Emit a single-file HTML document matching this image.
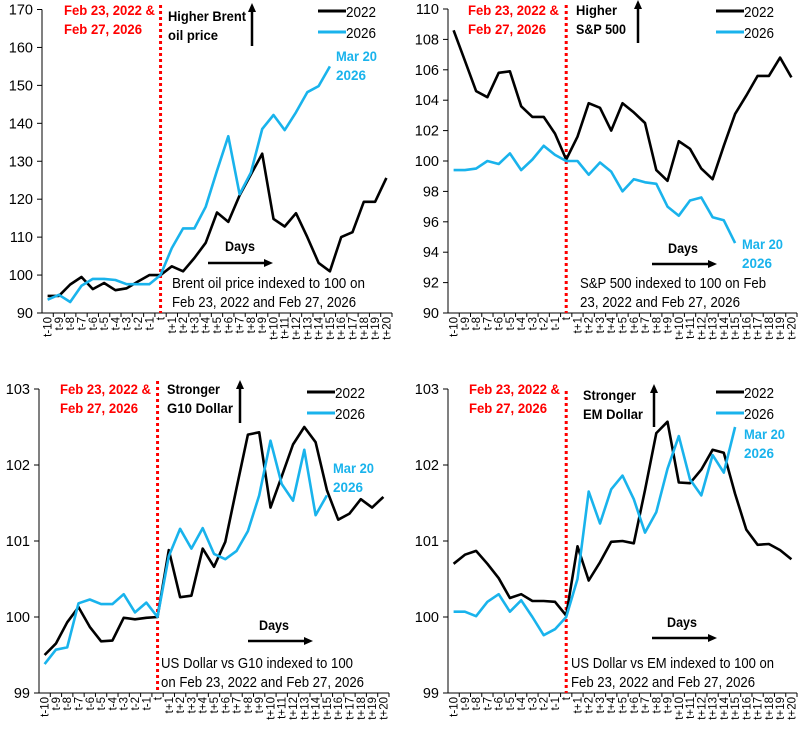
<!DOCTYPE html>
<html><head><meta charset="utf-8"><style>
html,body{margin:0;padding:0;background:#fff;}
svg{display:block;font-family:"Liberation Sans",sans-serif;}
</style></head><body>
<svg id="chart" width="802" height="731" viewBox="0 0 802 731" xmlns="http://www.w3.org/2000/svg"></svg>
<script>
const categories = ["t-10","t-9","t-8","t-7","t-6","t-5","t-4","t-3","t-2","t-1","t","t+1","t+2","t+3","t+4","t+5","t+6","t+7","t+8","t+9","t+10","t+11","t+12","t+13","t+14","t+15","t+16","t+17","t+18","t+19","t+20"];
const brent2022 = [94.5,94.5,97.5,99.5,96.3,97.9,96,96.5,98.3,100,100,102.3,101,104.5,108.5,116.5,114,121,126.5,132,114.8,112.8,116.3,110,103.2,101,110,111.3,119.3,119.3,125.6];
const brent2026 = [93.5,94.8,92.9,97.2,99,99,98.7,97.6,97.6,97.6,100,107.1,112.3,112.3,118,127.5,136.6,121.3,127,138.5,142.2,138.2,142.9,148.2,149.8,155];
const spx2022 = [108.6,106.6,104.6,104.2,105.8,105.9,103.6,102.9,102.9,101.8,100.1,101.6,103.8,103.5,102,103.8,103.2,102.5,99.4,98.7,101.3,100.8,99.5,98.8,101,103.1,104.3,105.6,105.6,106.8,105.5];
const spx2026 = [99.4,99.4,99.5,100,99.8,100.5,99.4,100.1,101,100.4,100,100,99.1,99.9,99.3,98,98.8,98.6,98.5,97,96.4,97.4,97.6,96.3,96.1,94.6];
const g10_2022 = [99.5,99.65,99.93,100.13,99.87,99.68,99.69,99.99,99.97,99.99,100,100.88,100.26,100.28,100.9,100.66,100.99,101.7,102.4,102.43,101.44,101.85,102.27,102.5,102.3,101.67,101.28,101.36,101.55,101.44,101.58];
const g10_2026 = [99.38,99.57,99.6,100.18,100.23,100.17,100.17,100.3,100.06,100.19,100,100.8,101.16,100.9,101.17,100.83,100.76,100.87,101.13,101.6,102.32,101.75,101.53,102.2,101.34,101.6];
const em2022 = [100.7,100.82,100.87,100.7,100.51,100.25,100.3,100.21,100.21,100.2,100.02,100.93,100.48,100.72,100.99,101.0,100.97,101.67,102.42,102.57,101.77,101.76,101.94,102.2,102.16,101.62,101.15,100.95,100.96,100.88,100.76];
const em2026 = [100.07,100.07,100.01,100.2,100.3,100.07,100.22,100.0,99.76,99.84,100.0,100.5,101.65,101.23,101.68,101.86,101.55,101.11,101.38,101.95,102.38,101.81,101.6,102.13,101.9,102.5];
const brentTicks = [90,100,110,120,130,140,150,160,170];
const spxTicks = [90,92,94,96,98,100,102,104,106,108,110];
const g10Ticks = [99,100,101,102,103];
const emTicks = [99,100,101,102,103];

const NS="http://www.w3.org/2000/svg";
const svg=document.getElementById('chart');
function mk(tag,attrs,parent,text){const e=document.createElementNS(NS,tag);for(const k in attrs)e.setAttribute(k,attrs[k]);if(text!==undefined)e.textContent=text;(parent||svg).appendChild(e);return e;}
function ts(parent,x,y,txt,len){const a={x:x,y:y};if(len){a.textLength=len;a.lengthAdjust='spacingAndGlyphs';}return mk('tspan',a,parent,txt);}

function panel(cfg){
  const g=mk('g',{});
  
  
  const {x0,x1,yTop,yBot,min,max}=cfg;
  const n=categories.length, step=(x1-x0)/n;
  const xs=i=>x0+(i+0.5)*step;
  const ys=v=>yBot-(v-min)/(max-min)*(yBot-yTop);
  const ya=mk('line',{x1:x0,y1:yTop,x2:x0,y2:yBot,stroke:'#000','stroke-width':1},g);
  
  
  cfg.ticks.forEach(t=>{
    const y=ys(t);
    mk('line',{x1:x0-5,y1:y,x2:x0,y2:y,stroke:'#000','stroke-width':1},g);
    const tl=mk('text',{x:x0-9,y:y+5,'text-anchor':'end','font-size':14.5,fill:'#000'},g,String(t));
    
    
  });
  const xa=mk('line',{x1:x0,y1:yBot,x2:x1,y2:yBot,stroke:'#000','stroke-width':1},g);
  
  
  categories.forEach((c,i)=>{
    const x=xs(i);
    mk('line',{x1:x0+(i+1)*step,y1:yBot,x2:x0+(i+1)*step,y2:yBot+4,stroke:'#000','stroke-width':1},g);
    const tl=mk('text',{x:0,y:0,'text-anchor':'end','font-size':11.5,fill:'#000',transform:`translate(${x+4},${yBot+4}) rotate(-90)`},g,c);
    
    
  });
  const rl=mk('line',{x1:xs(10),y1:cfg.redTop,x2:xs(10),y2:yBot,stroke:'#ff0000','stroke-width':3,'stroke-dasharray':'3,3'},g);
  
  
  [[cfg.s22,'#000000','series-2022'],[cfg.s26,'#19b3ec','series-2026']].forEach(([d,col,nm])=>{
    const p=mk('polyline',{points:d.map((v,i)=>xs(i).toFixed(1)+','+ys(v).toFixed(1)).join(' '),fill:'none',stroke:col,'stroke-width':2.6,'stroke-linejoin':'round'},g);
    
    
  });
  const a=cfg.ann;
  const dl=mk('text',{'font-size':14,'font-weight':'bold',fill:'#ff0000'},g);
  
  
  ts(dl,a.fx,a.fy,'Feb 23, 2022 &',91);
  ts(dl,a.fx,a.fy+19,'Feb 27, 2026',78);
  const hl=mk('text',{'font-size':14,'font-weight':'bold',fill:'#000'},g);
  
  
  ts(hl,a.hx,a.hy,a.h1,a.h1w);
  ts(hl,a.hx,a.hy+19,a.h2,a.h2w);
  const ua=mk('g',{},g);
  
  
  mk('line',{x1:a.ax,y1:a.ay1,x2:a.ax,y2:a.ay0+8,stroke:'#000','stroke-width':2.5},ua);
  mk('polygon',{points:`${a.ax-4},${a.ay0+9} ${a.ax+4},${a.ay0+9} ${a.ax},${a.ay0}`,fill:'#000'},ua);
  const lg=mk('g',{},g);
  
  
  mk('line',{x1:a.lx,y1:a.ly,x2:a.lx+28,y2:a.ly,stroke:'#000','stroke-width':3},lg);
  mk('text',{x:a.lx+28,y:a.ly+6,'font-size':15,fill:'#000',textLength:30,lengthAdjust:'spacingAndGlyphs'},lg,'2022');
  mk('line',{x1:a.lx,y1:a.ly+21,x2:a.lx+28,y2:a.ly+21,stroke:'#19b3ec','stroke-width':3},lg);
  mk('text',{x:a.lx+28,y:a.ly+27,'font-size':15,fill:'#000',textLength:30,lengthAdjust:'spacingAndGlyphs'},lg,'2026');
  const ml=mk('text',{'font-size':14,'font-weight':'bold',fill:'#19b3ec'},g);
  
  
  ts(ml,a.mx,a.my,'Mar 20',41);
  ts(ml,a.mx,a.my+19,'2026',30);
  const dd=mk('text',{x:a.dx,y:a.dy,'font-size':14,'font-weight':'bold',fill:'#000',textLength:30,lengthAdjust:'spacingAndGlyphs'},g,'Days');
  
  
  const ra=mk('g',{},g);
  
  
  mk('line',{x1:a.rx0,y1:a.ry,x2:a.rx1-8,y2:a.ry,stroke:'#000','stroke-width':2.5},ra);
  mk('polygon',{points:`${a.rx1-9},${a.ry-4} ${a.rx1-9},${a.ry+4} ${a.rx1},${a.ry}`,fill:'#000'},ra);
  const nt=mk('text',{'font-size':15,fill:'#000'},g);
  
  
  ts(nt,a.tx,a.ty,a.t1,a.t1w);
  ts(nt,a.tx,a.ty+19,a.t2,a.t2w);
}

panel({name:'brent-panel',x0:42,x1:392,yTop:9.5,yBot:313,min:90,max:170,ticks:brentTicks,s22:brent2022,s26:brent2026,redTop:5,
 ann:{fx:64,fy:15,hx:168,hy:21,h1:'Higher Brent',h1w:78,h2:'oil price',h2w:50,ax:252,ay0:3,ay1:46,lx:318,ly:11,mx:336,my:61,dx:225,dy:251,rx0:208,rx1:273,ry:263,tx:172,ty:288,t1:'Brent oil price indexed to 100 on',t1w:193,t2:'Feb 23, 2022 and Feb 27, 2026',t2w:184}});
panel({name:'sp500-panel',x0:448,x1:797,yTop:9,yBot:313,min:90,max:110,ticks:spxTicks,s22:spx2022,s26:spx2026,redTop:5,
 ann:{fx:468,fy:15,hx:576,hy:15,h1:'Higher',h1w:41,h2:'S&P 500',h2w:50,ax:638,ay0:0,ay1:43,lx:716,ly:11,mx:742,my:249,dx:668,dy:253,rx0:652,rx1:717,ry:264,tx:580,ty:288,t1:'S&P 500 indexed to 100 on Feb',t1w:186,t2:'23, 2022 and Feb 27, 2026',t2w:160}});
panel({name:'g10-dollar-panel',x0:39,x1:389,yTop:389,yBot:693,min:99,max:103,ticks:g10Ticks,s22:g10_2022,s26:g10_2026,redTop:381,
 ann:{fx:60,fy:394,hx:167,hy:394,h1:'Stronger',h1w:53,h2:'G10 Dollar',h2w:66,ax:240,ay0:380,ay1:423,lx:307,ly:392,mx:333,my:473,dx:259,dy:630,rx0:248,rx1:313,ry:641,tx:161,ty:668,t1:'US Dollar vs G10 indexed to 100',t1w:192,t2:'on Feb 23, 2022 and Feb 27, 2026',t2w:203}});
panel({name:'em-dollar-panel',x0:448,x1:797,yTop:389,yBot:693,min:99,max:103,ticks:emTicks,s22:em2022,s26:em2026,redTop:391,
 ann:{fx:469,fy:394,hx:583,hy:400,h1:'Stronger',h1w:53,h2:'EM Dollar',h2w:60,ax:654,ay0:384,ay1:427,lx:716,ly:392,mx:744,my:439,dx:667,dy:627,rx0:652,rx1:717,ry:638,tx:571,ty:668,t1:'US Dollar vs EM indexed to 100 on',t1w:203,t2:'Feb 23, 2022 and Feb 27, 2026',t2w:184}});
</script>
</body></html>
